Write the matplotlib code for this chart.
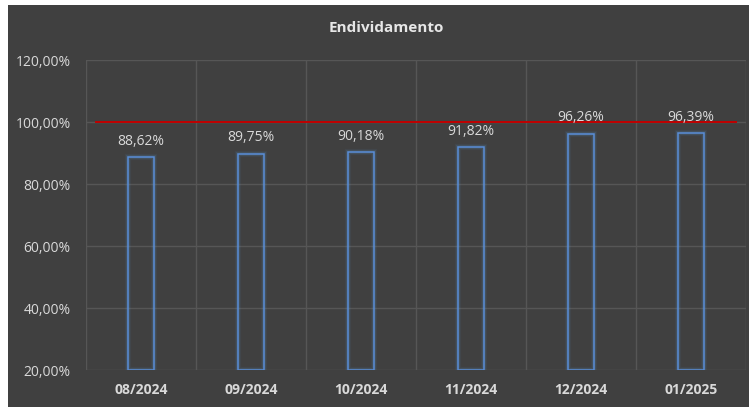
import matplotlib
matplotlib.use("Agg")
import matplotlib.pyplot as plt

categories = ["08/2024", "09/2024", "10/2024", "11/2024", "12/2024", "01/2025"]
values = [88.62, 89.75, 90.18, 91.82, 96.26, 96.39]
reference = 100.0
yticks = [20, 40, 60, 80, 100, 120]

bg = "#404040"
txt = "#d9d9d9"
font = "Open Sans"
fig = plt.figure(figsize=(7.49, 4.07), dpi=100, facecolor="white")
fig.patches.append(plt.Rectangle((8/749, 0), 1 - 8/749, 1 - 5/407, transform=fig.transFigure,
                                 facecolor=bg, edgecolor="none", zorder=-10))
ax = fig.add_axes([86/749, 1 - 370/407, (746 - 86)/749, (370 - 60)/407])
ax.set_zorder(1)
ax.set_facecolor(bg)

x = list(range(len(categories)))
base = yticks[0]
heights = [v - base for v in values]
for xi, h in zip(x, heights):
    for lw, a in [(4.5, 0.07), (3, 0.14)]:
        ax.bar(xi, h, bottom=base, width=0.24, facecolor="none", edgecolor="#5b9bd5",
               linewidth=lw, alpha=a, zorder=3)
    ax.bar(xi, h, bottom=base, width=0.24, facecolor="none", edgecolor="#5a8ed8",
           linewidth=1.1, zorder=4)

for xi, v in zip(x, values):
    ax.annotate(f"{v:.2f}%".replace(".", ","), (xi, v), xytext=(0, 6), textcoords="offset points",
                ha="center", va="bottom", color=txt, fontsize=10, family=font, zorder=6)

ax.plot([-0.41, 5.41], [reference, reference], color="#c00000", linewidth=1.4, zorder=5)

ax.set_xlim(-0.5, 5.5)
ax.set_ylim(20, 120)
ax.set_yticks(yticks)
ax.set_yticklabels([f"{t:.2f}%".replace(".", ",") for t in yticks], color=txt, fontsize=10, family=font)
ax.set_xticks(x)
ax.set_xticklabels(categories, color=txt, fontsize=10, fontweight="bold", family=font)
ax.set_xticks([i - 0.5 for i in range(len(categories) + 1)], minor=True)
ax.tick_params(axis="both", which="both", length=0)
ax.tick_params(axis="y", pad=11)
ax.tick_params(axis="x", pad=9)
ax.grid(axis="y", which="major", color="#565656", linewidth=1)
ax.grid(axis="x", which="minor", color="#565656", linewidth=1)
ax.set_axisbelow(True)
for s in ax.spines.values():
    s.set_visible(False)

fig.text(386/749, 1 - 28/407, "Endividamento", ha="center", va="center", color="#e6e6e6",
         fontsize=11, fontweight="bold", family=font)

fig.savefig("out.png", dpi=100, facecolor="white")
